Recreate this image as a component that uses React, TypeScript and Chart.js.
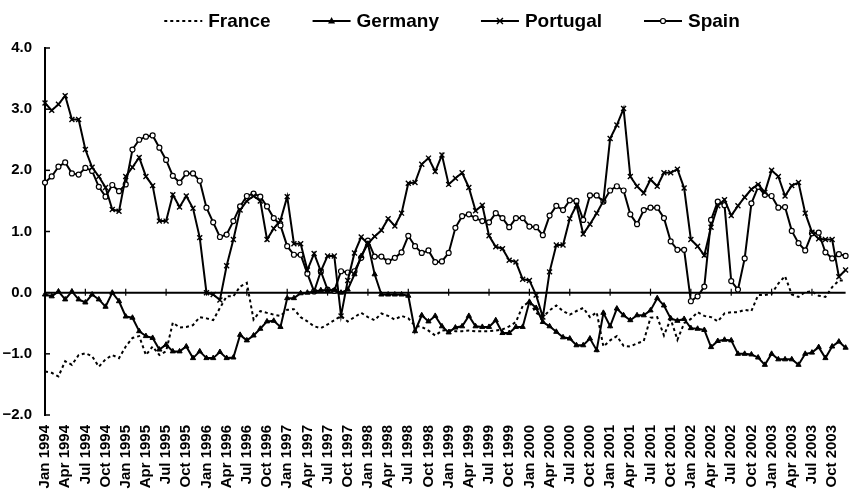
import React, { useEffect, useRef } from "react";
import { Chart, registerables } from "chart.js";

Chart.register(...registerables);

const MONTH_NAMES = ["Jan", "Feb", "Mar", "Apr", "May", "Jun", "Jul", "Aug", "Sep", "Oct", "Nov", "Dec"];
const YEARS = [1994, 1995, 1996, 1997, 1998, 1999, 2000, 2001, 2002, 2003];
const LABELS = YEARS.flatMap((y) => MONTH_NAMES.map((m) => `${m} ${y}`));

const Y_TICKS = [-2, -1, 0, 1, 2, 3, 4];

const FRANCE = [
  -1.29, -1.31, -1.37, -1.12, -1.18, -1.02, -0.99, -1.04, -1.21, -1.09, -1.02, -1.07,
  -0.88, -0.74, -0.71, -1.02, -0.88, -1.02, -0.96, -0.49, -0.57, -0.56, -0.53, -0.40,
  -0.42, -0.45, -0.25, -0.06, -0.06, 0.10, 0.16, -0.44, -0.30, -0.33, -0.36, -0.38,
  -0.28, -0.27, -0.40, -0.47, -0.55, -0.58, -0.52, -0.45, -0.38, -0.47, -0.40, -0.33,
  -0.40, -0.45, -0.34, -0.38, -0.44, -0.38, -0.42, -0.54, -0.56, -0.62, -0.70, -0.62,
  -0.61, -0.63, -0.63, -0.62, -0.63, -0.63, -0.63, -0.62, -0.60, -0.55, -0.48, -0.22,
  -0.15, -0.33, -0.40, -0.29, -0.21, -0.30, -0.36, -0.30, -0.25, -0.40, -0.32, -0.88,
  -0.78, -0.71, -0.87, -0.88, -0.83, -0.79, -0.41, -0.40, -0.70, -0.43, -0.77, -0.50,
  -0.43, -0.32, -0.38, -0.40, -0.47, -0.34, -0.32, -0.32, -0.28, -0.30, -0.04, -0.04,
  -0.02, 0.15, 0.27, -0.03, -0.07, 0.01, 0.02, -0.05, -0.07, 0.09, 0.20, 0.20,
];

const GERMANY = [
  -0.03, -0.06, 0.02, -0.11, 0.02, -0.11, -0.16, -0.03, -0.11, -0.23, 0.0, -0.14,
  -0.39, -0.41, -0.63, -0.71, -0.74, -0.93, -0.85, -0.96, -0.96, -0.88, -1.07, -0.96,
  -1.07, -1.07, -0.97, -1.07, -1.06, -0.69, -0.78, -0.70, -0.59, -0.47, -0.46, -0.56,
  -0.09, -0.09, -0.01, 0.0, 0.02, 0.04, 0.04, 0.04, 0.0, 0.05, 0.30, 0.60,
  0.80, 0.30, -0.03, -0.03, -0.03, -0.03, -0.05, -0.63, -0.37, -0.47, -0.38, -0.55,
  -0.65, -0.57, -0.55, -0.38, -0.55, -0.56, -0.56, -0.45, -0.66, -0.66, -0.56, -0.56,
  -0.15, -0.25, -0.48, -0.55, -0.64, -0.73, -0.75, -0.86, -0.86, -0.75, -0.94, -0.33,
  -0.55, -0.26, -0.37, -0.45, -0.37, -0.37, -0.29, -0.09, -0.21, -0.42, -0.46, -0.43,
  -0.58, -0.59, -0.61, -0.89, -0.79, -0.77, -0.78, -1.0, -1.0, -1.01, -1.06, -1.18,
  -1.0, -1.09, -1.09, -1.09, -1.18, -1.0, -0.98, -0.89, -1.07, -0.88, -0.80, -0.90,
];

const PORTUGAL = [
  3.10, 2.98, 3.08, 3.22, 2.83, 2.83, 2.34, 2.05, 1.90, 1.72, 1.36, 1.33,
  1.90, 2.05, 2.21, 1.90, 1.75, 1.17, 1.17, 1.60, 1.40, 1.58, 1.38, 0.90,
  0.0, -0.03, -0.12, 0.44, 0.87, 1.35, 1.50, 1.58, 1.50, 0.87, 1.05, 1.18,
  1.57, 0.80, 0.80, 0.37, 0.64, 0.35, 0.60, 0.60, -0.38, 0.20, 0.65, 0.91,
  0.80, 0.92, 1.02, 1.21, 1.09, 1.30, 1.79, 1.80, 2.10, 2.20, 1.98, 2.25,
  1.77, 1.87, 1.96, 1.72, 1.34, 1.43, 0.93, 0.75, 0.72, 0.53, 0.50, 0.22,
  0.20, -0.04, -0.40, 0.34, 0.78, 0.78, 1.21, 1.43, 0.96, 1.12, 1.30, 1.50,
  2.52, 2.74, 3.01, 1.90, 1.74, 1.63, 1.85, 1.74, 1.96, 1.96, 2.02, 1.71,
  0.87, 0.76, 0.61, 1.07, 1.42, 1.52, 1.26, 1.42, 1.56, 1.69, 1.77, 1.64,
  2.00, 1.90, 1.58, 1.75, 1.80, 1.30, 0.99, 0.88, 0.87, 0.87, 0.26, 0.37,
];

const SPAIN = [
  1.80, 1.90, 2.06, 2.13, 1.95, 1.93, 2.04, 1.99, 1.73, 1.57, 1.76, 1.66,
  1.77, 2.34, 2.50, 2.55, 2.57, 2.37, 2.17, 1.91, 1.80, 1.95, 1.95, 1.83,
  1.39, 1.15, 0.91, 0.95, 1.17, 1.41, 1.58, 1.62, 1.57, 1.41, 1.22, 1.10,
  0.76, 0.62, 0.62, 0.31, 0.02, 0.35, 0.05, 0.03, 0.35, 0.33, 0.35, 0.57,
  0.85, 0.59, 0.59, 0.51, 0.57, 0.66, 0.93, 0.76, 0.65, 0.69, 0.50, 0.51,
  0.65, 1.06, 1.25, 1.28, 1.22, 1.17, 1.15, 1.30, 1.22, 1.07, 1.22, 1.22,
  1.08, 1.07, 0.94, 1.26, 1.42, 1.35, 1.51, 1.50, 1.19, 1.59, 1.59, 1.49,
  1.67, 1.74, 1.67, 1.28, 1.12, 1.35, 1.39, 1.39, 1.22, 0.84, 0.70, 0.70,
  -0.14, -0.06, 0.10, 1.19, 1.49, 1.43, 0.19, 0.05, 0.56, 1.46, 1.73, 1.60,
  1.58, 1.39, 1.40, 1.01, 0.81, 0.69, 0.97, 0.98, 0.66, 0.56, 0.63, 0.60,
];

const SERIES_NAMES = ["France", "Germany", "Portugal", "Spain"];

const FONT = "'Liberation Sans', Arial, Helvetica, sans-serif";

function drawMarker(ctx: CanvasRenderingContext2D, kind: string, x: number, y: number) {
  ctx.save();
  ctx.strokeStyle = "#000";
  ctx.fillStyle = "#000";
  ctx.setLineDash([]);
  if (kind === "triangle") {
    ctx.beginPath();
    ctx.moveTo(x, y - 4);
    ctx.lineTo(x + 3.5, y + 2.5);
    ctx.lineTo(x - 3.5, y + 2.5);
    ctx.closePath();
    ctx.fill();
  } else if (kind === "cross") {
    ctx.lineWidth = 1.4;
    ctx.beginPath();
    ctx.moveTo(x - 3, y - 3);
    ctx.lineTo(x + 3, y + 3);
    ctx.moveTo(x + 3, y - 3);
    ctx.lineTo(x - 3, y + 3);
    ctx.stroke();
  } else if (kind === "circle") {
    ctx.lineWidth = 1.2;
    ctx.fillStyle = "#fff";
    ctx.beginPath();
    ctx.arc(x, y, 2.5, 0, Math.PI * 2);
    ctx.fill();
    ctx.stroke();
  }
  ctx.restore();
}

const decorPlugin = {
  id: "decor",
  beforeDatasetsDraw(chart: any) {
    const { ctx, chartArea, scales } = chart;
    const xs = scales.x;
    const ys = scales.y;
    ctx.save();
    ctx.strokeStyle = "#000";
    ctx.lineWidth = 2;
    ctx.beginPath();
    ctx.moveTo(chartArea.left, ys.getPixelForValue(4) - 1);
    ctx.lineTo(chartArea.left, ys.getPixelForValue(-2) + 1);
    ctx.stroke();
    ctx.lineWidth = 1.5;
    for (const v of Y_TICKS) {
      const py = ys.getPixelForValue(v);
      ctx.beginPath();
      ctx.moveTo(chartArea.left, py);
      ctx.lineTo(chartArea.left + 5, py);
      ctx.stroke();
    }
    const y0 = ys.getPixelForValue(0);
    ctx.lineWidth = 2;
    ctx.beginPath();
    ctx.moveTo(chartArea.left, y0);
    ctx.lineTo(chartArea.right, y0);
    ctx.stroke();
    ctx.lineWidth = 1.2;
    for (let i = 0; i < LABELS.length; i += 6) {
      const px = xs.getPixelForValue(i);
      ctx.beginPath();
      ctx.moveTo(px, y0 - 4);
      ctx.lineTo(px, y0 + 3);
      ctx.stroke();
    }
    ctx.restore();
  },
  afterDraw(chart: any) {
    const { ctx } = chart;
    ctx.save();
    ctx.font = `bold 19px ${FONT}`;
    ctx.textBaseline = "middle";
    ctx.fillStyle = "#000";
    const kinds = ["dotted", "triangle", "cross", "circle"];
    const lineLen = 38;
    const gapText = 6;
    const gapItem = 42;
    const widths = SERIES_NAMES.map((n) => ctx.measureText(n).width);
    const total = widths.reduce((a, b) => a + b, 0) + SERIES_NAMES.length * (lineLen + gapText) + (SERIES_NAMES.length - 1) * gapItem;
    let x = 452 - total / 2;
    const y = 21;
    SERIES_NAMES.forEach((name, i) => {
      ctx.strokeStyle = "#000";
      ctx.lineWidth = 2;
      if (kinds[i] === "dotted") ctx.setLineDash([3, 3]);
      else ctx.setLineDash([]);
      ctx.beginPath();
      ctx.moveTo(x, y);
      ctx.lineTo(x + lineLen, y);
      ctx.stroke();
      ctx.setLineDash([]);
      if (kinds[i] !== "dotted") drawMarker(ctx, kinds[i], x + lineLen / 2, y);
      ctx.fillText(name, x + lineLen + gapText, y + 1);
      x += lineLen + gapText + widths[i] + gapItem;
    });
    ctx.restore();
  },
};

export default function App() {
  const canvasRef = useRef<HTMLCanvasElement | null>(null);

  useEffect(() => {
    if (!canvasRef.current) return;
    const chart = new Chart(canvasRef.current, {
      type: "line",
      data: {
        labels: LABELS,
        datasets: [
          {
            label: "France",
            data: FRANCE,
            borderColor: "#000",
            borderWidth: 2,
            borderDash: [3, 3],
            pointRadius: 0,
            tension: 0,
          },
          {
            label: "Germany",
            data: GERMANY,
            borderColor: "#000",
            backgroundColor: "#000",
            borderWidth: 2,
            pointStyle: "triangle",
            pointRadius: 3,
            pointBorderWidth: 1,
            tension: 0,
          },
          {
            label: "Portugal",
            data: PORTUGAL,
            borderColor: "#000",
            backgroundColor: "#000",
            borderWidth: 2,
            pointStyle: "crossRot",
            pointRadius: 3.5,
            pointBorderWidth: 1.4,
            tension: 0,
          },
          {
            label: "Spain",
            data: SPAIN,
            borderColor: "#000",
            backgroundColor: "#fff",
            borderWidth: 2,
            pointStyle: "circle",
            pointRadius: 2.5,
            pointBorderWidth: 1.2,
            tension: 0,
          },
        ],
      },
      options: {
        responsive: false,
        animation: false,
        devicePixelRatio: 1,
        layout: { padding: { top: 48, right: 2, left: 0, bottom: 0 } },
        plugins: {
          legend: { display: false },
          tooltip: { enabled: false },
        },
        scales: {
          x: {
            type: "category",
            offset: false,
            grid: { display: false },
            border: { display: false },
            ticks: {
              autoSkip: false,
              maxRotation: 90,
              minRotation: 90,
              padding: 2,
              color: "#000",
              font: { family: FONT, size: 15, weight: "bold" },
              callback: (_v: any, i: number) => (i % 3 === 0 ? LABELS[i] : ""),
            },
            afterFit: (s: any) => {
              s.height = 76;
              s.paddingLeft = 0;
              s.paddingRight = 0;
            },
          },
          y: {
            min: -2,
            max: 4,
            grid: { display: false },
            border: { display: false },
            ticks: {
              stepSize: 1,
              padding: 5,
              color: "#000",
              font: { family: FONT, size: 15, weight: "bold" },
              callback: (v: any) => {
                const n = Number(v);
                const s = Math.abs(n).toFixed(1);
                return n < 0 ? `\u2212${s}` : s;
              },
            },
            afterFit: (s: any) => {
              s.width = 45;
            },
          },
        },
      },
      plugins: [decorPlugin],
    });
    return () => chart.destroy();
  }, []);

  return (
    <div style={{ position: "absolute", left: 0, top: 0, width: 851, height: 491, background: "#fff" }}>
      <canvas ref={canvasRef} width={851} height={491} style={{ display: "block" }} />
    </div>
  );
}
